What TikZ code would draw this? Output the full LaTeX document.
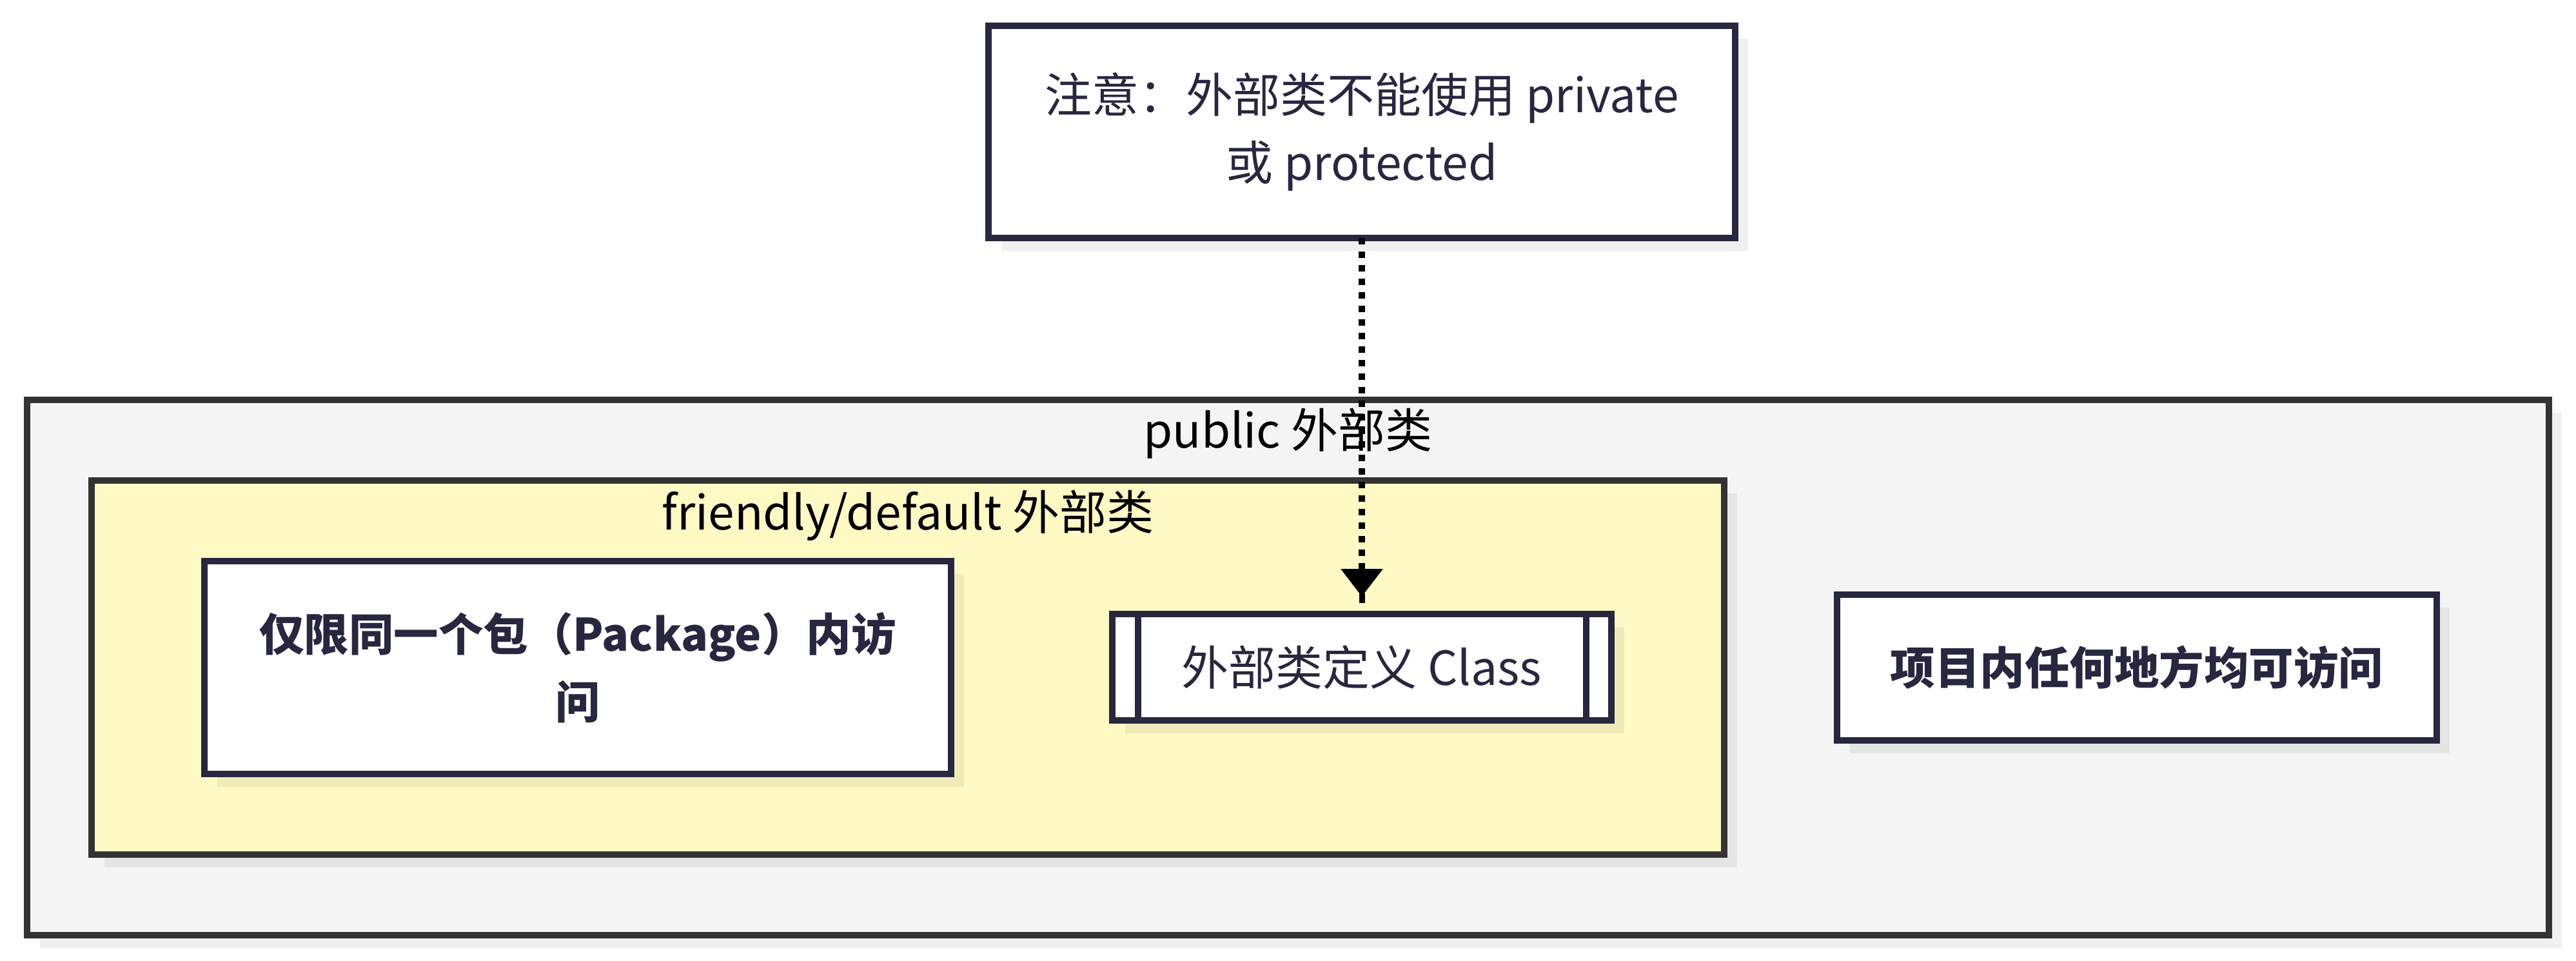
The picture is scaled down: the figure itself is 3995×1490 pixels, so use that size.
\documentclass[tikz,border=0pt]{standalone}
\usepackage{fontspec}
\setmainfont{Noto Sans CJK SC}
\usetikzlibrary{arrows.meta,shadows}
\definecolor{navy}{HTML}{272740}
\definecolor{clusterline}{HTML}{333333}
\definecolor{graybg}{HTML}{F4F4F4}
\definecolor{yellowbg}{HTML}{FFF9C4}
\begin{document}
\begin{tikzpicture}[x=1pt,y=-1pt,
  every node/.style={inner sep=0pt, outer sep=0pt},
  shadowed/.style={drop shadow={shadow xshift=20pt, shadow yshift=-20pt, fill=black, opacity=0.06}},
  cluster/.style={draw=clusterline, line width=10pt, rectangle, shadowed},
  title/.style={anchor=base, text=black, font=\fontsize{73pt}{105pt}\selectfont},
  nodebox/.style={draw=navy, line width=10pt, fill=white, text=navy, align=center,
    font=\fontsize{73pt}{105pt}\selectfont, shadowed},
  boldbox/.style={nodebox, font=\fontsize{69.5pt}{105pt}\selectfont\bfseries},
  sideline/.style={draw=navy, line width=10pt},
  link/.style={draw=black, line width=10pt, dash pattern=on 10pt off 11pt,
    -{Triangle[length=43pt,width=63pt]}, shorten >=27pt},
  stub/.style={draw=black, line width=9pt}
]
\useasboundingbox (0,0) rectangle (3995,1490);

% clusters
\node[cluster, fill=graybg, minimum width=3911pt, minimum height=830pt] (pub) at (1997.5,1035) {};
\node[title] (pubtitle) at (1997.5,694) {public 外部类};
\node[cluster, fill=yellowbg, minimum width=2532pt, minimum height=580pt] (fri) at (1408,1035) {};
\node[title] (frititle) at (1408,821) {friendly/default 外部类};

% note
\node[nodebox, minimum width=1158pt, minimum height=329pt] (note) at (2112,204.5)
  {注意：外部类不能使用 private\\或 protected};

% package-only
\node[boldbox, minimum width=1158pt, minimum height=330pt] (pkg) at (896,1035)
  {仅限同一个包（Package）内访\\问};

% class definition (subroutine shape)
\node[nodebox, minimum width=774pt, minimum height=165pt] (cls) at (2112,1034.5)
  {外部类定义 Class};
\draw[sideline] ([xshift=39.5pt]cls.north west) -- ([xshift=39.5pt]cls.south west);
\draw[sideline] ([xshift=-39.5pt]cls.north east) -- ([xshift=-39.5pt]cls.south east);

% anywhere
\node[boldbox, minimum width=930pt, minimum height=226pt] (any) at (3314,1035)
  {项目内任何地方均可访问};

% connector
\draw[link] (note.south) -- (cls.north);
\draw[stub] ([yshift=17pt]cls.north) -- ([yshift=32pt]cls.north);
\end{tikzpicture}
\end{document}
